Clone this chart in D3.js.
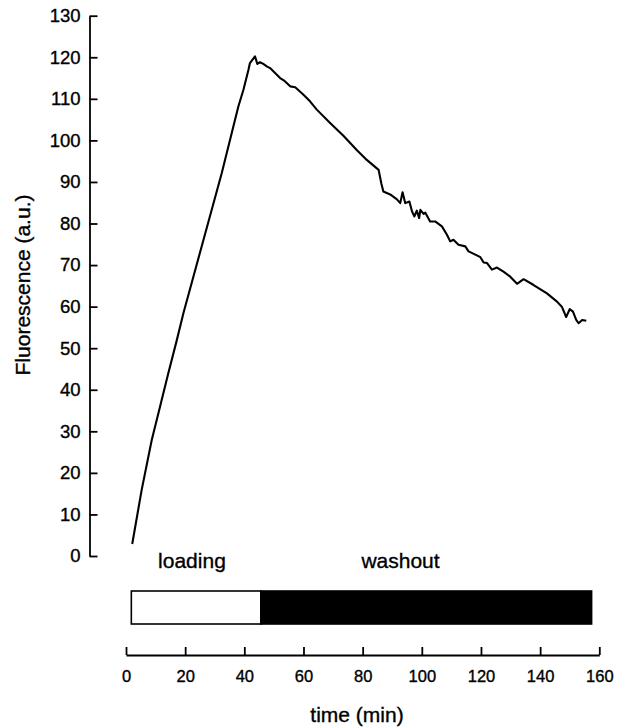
<!DOCTYPE html>
<html>
<head>
<meta charset="utf-8">
<script src="https://cdn.jsdelivr.net/npm/d3@7"></script>
<style>
  body { margin: 0; background: #fff; }
  svg text { font-family: "Liberation Sans", Arial, sans-serif; fill: #000; stroke: #000; stroke-width: 0.35px; }
</style>
</head>
<body>
<div id="chart"></div>
<script>
// time (min) and fluorescence (a.u.)
var time = [2.1, 5.3, 8.7, 11.5, 14.3, 17.2, 19.4, 26.2, 32.4, 38.0, 39.7, 41.4, 41.9, 43.6, 44.4, 45.3, 46.4, 47.6,
    48.7, 52.1, 53.6, 55.5, 57.2, 60.0, 62.2, 64.5, 69.0, 73.5, 78.0, 81.4, 85.4, 86.3, 87.0, 89.3, 91.6, 92.7, 93.5,
    94.4, 95.8, 96.7, 97.5, 98.3, 99.1, 99.5, 100.6, 101.2, 102.8, 104.5, 106.8, 108.5, 109.6, 110.7, 112.4,
    114.7, 115.8, 118.1, 119.8, 120.9, 122.0, 123.7, 125.4, 127.6, 129.9, 132.2, 134.4, 137.8, 142.3, 145.7,
    147.4, 148.8, 150.0, 151.1, 152.2, 153.0, 154.2, 155.6];
var fluorescence = [2.9, 15.9, 27.9, 35.9, 44.0, 52.0, 58.4, 76.1, 92.2, 108.2, 112.2, 117.0, 118.6, 120.2, 118.4, 118.8, 118.4, 117.8,
    117.4, 115.0, 114.3, 113.0, 112.8, 111.0, 109.4, 107.4, 104.2, 101.1, 97.7, 95.3, 92.9, 89.7, 87.7, 87.0, 85.8, 84.9, 87.5,
    84.9, 85.3, 82.9, 81.7, 83.1, 81.3, 83.3, 82.3, 82.6, 80.5, 80.5, 79.3, 77.3, 75.7, 76.1, 74.9,
    74.5, 73.3, 72.5, 71.9, 70.6, 70.5, 68.9, 69.4, 68.4, 67.2, 65.5, 66.6, 65.2, 63.2, 61.2,
    59.9, 57.5, 59.4, 58.8, 56.8, 56.0, 56.8, 56.6];

// protocol phases
var phases = ["loading", "washout"];
var phaseStart = [1.8, 45.6];
var phaseEnd = [45.6, 157.4];
var phaseFill = ["#fff", "#000"];
var phaseLabelAt = [22.3, 92.8];

var xTicks = [0, 20, 40, 60, 80, 100, 120, 140, 160];
var yTicks = [0, 10, 20, 30, 40, 50, 60, 70, 80, 90, 100, 110, 120, 130];

var width = 617, height = 727;

var svg = d3.select("#chart").append("svg")
    .attr("width", width).attr("height", height);

var x = d3.scaleLinear().domain([0, 160]).range([126, 599.3]);
var y = d3.scaleLinear().domain([0, 130]).range([556, 15.7]);

// y axis, ticks pointing inward
var gy = svg.append("g").attr("transform", "translate(89.5,0)")
    .call(d3.axisLeft(y).tickValues(yTicks).tickSizeInner(-8).tickSizeOuter(0).tickPadding(9));
gy.selectAll("text").style("font-size", "18.5px");

// x axis below the phase bar
var gx = svg.append("g").attr("transform", "translate(0,655)")
    .call(d3.axisBottom(x).tickValues(xTicks).tickSizeInner(-8).tickSizeOuter(0).tickPadding(15));
gx.selectAll("text").style("font-size", "16.5px");

svg.selectAll(".domain, .tick line").attr("stroke", "#000").attr("stroke-width", 1.8);

// trace
var pts = time.map(function(t, i) { return [t, fluorescence[i]]; });
var line = d3.line().x(function(d) { return x(d[0]); }).y(function(d) { return y(d[1]); });
svg.append("path").datum(pts)
    .attr("d", line)
    .attr("fill", "none")
    .attr("stroke", "#000")
    .attr("stroke-width", 2.1)
    .attr("stroke-linejoin", "round");

// phase bar
svg.selectAll(".phase").data(phases).enter().append("rect")
    .attr("class", "phase")
    .attr("x", function(d, i) { return x(phaseStart[i]); })
    .attr("width", function(d, i) { return x(phaseEnd[i]) - x(phaseStart[i]); })
    .attr("y", 591)
    .attr("height", 33)
    .attr("fill", function(d, i) { return phaseFill[i]; })
    .attr("stroke", "#000")
    .attr("stroke-width", 1.6);

svg.selectAll(".phase-label").data(phases).enter().append("text")
    .attr("class", "phase-label")
    .attr("x", function(d, i) { return x(phaseLabelAt[i]); })
    .attr("y", 568)
    .attr("text-anchor", "middle")
    .style("font-size", "21px")
    .text(function(d) { return d; });

// axis titles
svg.append("text")
    .attr("x", 357).attr("y", 722)
    .attr("text-anchor", "middle")
    .style("font-size", "21px")
    .text("time (min)");

svg.append("text")
    .attr("transform", "translate(30,285) rotate(-90)")
    .attr("text-anchor", "middle")
    .style("font-size", "21px")
    .text("Fluorescence (a.u.)");
</script>
</body>
</html>
